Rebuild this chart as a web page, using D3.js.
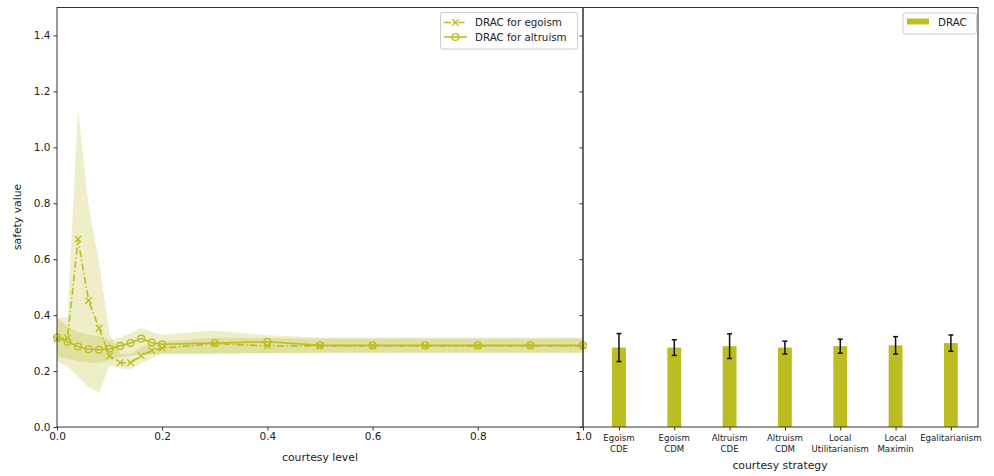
<!DOCTYPE html>
<html><head><meta charset="utf-8">
<script src="https://cdn.jsdelivr.net/npm/d3@7/dist/d3.min.js"></script>
<style>body{margin:0;background:#fff} svg{display:block;font-family:"DejaVu Sans",sans-serif}</style>
</head><body><svg id="c" width="994" height="476"></svg>
<script>
// ---- data ----
const courtesyLevels = [0,0.02,0.04,0.06,0.08,0.1,0.12,0.14,0.16,0.18,0.2,0.3,0.4,0.5,0.6,0.7,0.8,0.9,1.0];
const egoismMean  = [0.315,0.318,0.672,0.452,0.353,0.254,0.230,0.230,0.255,0.273,0.282,0.298,0.290,0.290,0.290,0.290,0.290,0.290,0.290];
const egoismLower = [0.234,0.216,0.180,0.144,0.123,0.220,0.210,0.206,0.228,0.246,0.264,0.262,0.264,0.266,0.266,0.266,0.266,0.266,0.266];
const egoismUpper = [0.390,0.392,1.135,0.790,0.590,0.330,0.262,0.262,0.285,0.300,0.305,0.320,0.318,0.316,0.316,0.316,0.316,0.316,0.316];
const altruismMean  = [0.320,0.305,0.288,0.278,0.276,0.280,0.290,0.300,0.316,0.302,0.296,0.300,0.305,0.292,0.292,0.292,0.292,0.292,0.292];
const altruismLower = [0.250,0.245,0.235,0.230,0.230,0.240,0.250,0.255,0.262,0.260,0.260,0.262,0.265,0.265,0.265,0.265,0.265,0.265,0.265];
const altruismUpper = [0.390,0.360,0.340,0.330,0.325,0.310,0.320,0.335,0.355,0.340,0.330,0.345,0.328,0.320,0.320,0.320,0.320,0.320,0.320];
const xTicks = [0,0.2,0.4,0.6,0.8,1.0];
const yTicks = [0,0.2,0.4,0.6,0.8,1.0,1.2,1.4];
const strategies = [["Egoism","CDE"],["Egoism","CDM"],["Altruism","CDE"],["Altruism","CDM"],["Local","Utilitarianism"],["Local","Maximin"],["Egalitarianism"]];
const dracValues = [0.284,0.284,0.289,0.284,0.289,0.292,0.300];
const dracErrors = [0.050,0.028,0.044,0.023,0.025,0.031,0.029];
const seriesNames = ["DRAC for egoism","DRAC for altruism"];
const barName = "DRAC";

const COLOR = "#bcbd22";
const TXT = "#222";
const svg = d3.select("#c");
const x = d3.scaleLinear().domain([0,1]).range([57,583]);
const y = d3.scaleLinear().domain([0,1.5]).range([427,7.5]);
const xb = d3.scaleLinear().domain([-0.65,6.49]).range([583,978]);
const barW = xb(0.25)-xb(0);

// ---- left panel ----
const gL = svg.append("g");
const area = (lo,hi)=>d3.area().x((d,i)=>x(courtesyLevels[i])).y0((d,i)=>y(lo[i])).y1((d,i)=>y(hi[i]));
gL.append("path").datum(courtesyLevels).attr("d",area(egoismLower,egoismUpper)).attr("fill",COLOR).attr("fill-opacity",0.25);
gL.append("path").datum(courtesyLevels).attr("d",area(altruismLower,altruismUpper)).attr("fill",COLOR).attr("fill-opacity",0.25);
const line = vals=>d3.line().x((d,i)=>x(courtesyLevels[i])).y((d,i)=>y(vals[i]));
gL.append("path").datum(courtesyLevels).attr("d",line(egoismMean)).attr("fill","none").attr("stroke",COLOR).attr("stroke-width",1.6).attr("stroke-dasharray","7,2.5,1.5,2.5");
gL.append("path").datum(courtesyLevels).attr("d",line(altruismMean)).attr("fill","none").attr("stroke",COLOR).attr("stroke-width",1.6);
const xm = 3.2;
gL.selectAll(".xm").data(courtesyLevels).enter().append("path")
  .attr("d",(d,i)=>{const cx=x(d),cy=y(egoismMean[i]);return `M${cx-xm},${cy-xm}L${cx+xm},${cy+xm}M${cx-xm},${cy+xm}L${cx+xm},${cy-xm}`;})
  .attr("stroke",COLOR).attr("stroke-width",1.3).attr("fill","none");
gL.selectAll(".cm").data(courtesyLevels).enter().append("circle")
  .attr("cx",d=>x(d)).attr("cy",(d,i)=>y(altruismMean[i])).attr("r",3.4)
  .attr("fill","none").attr("stroke",COLOR).attr("stroke-width",1.3);

// axes left
const axX = gL.append("g").attr("transform","translate(0,427)")
  .call(d3.axisBottom(x).tickValues(xTicks).tickFormat(d3.format(".1f")).tickSize(3.5).tickPadding(2));
const axY = gL.append("g").attr("transform","translate(57,0)")
  .call(d3.axisLeft(y).tickValues(yTicks).tickFormat(d3.format(".1f")).tickSize(3.5).tickPadding(3));
[axX,axY].forEach(a=>{a.select(".domain").remove();a.selectAll("text").attr("font-size",10.5).attr("fill",TXT).attr("font-family","DejaVu Sans");a.selectAll("line").attr("stroke","#333");});
gL.append("rect").attr("x",57).attr("y",7.5).attr("width",583-57).attr("height",427-7.5).attr("fill","none").attr("stroke","#333").attr("stroke-width",1);
gL.append("text").attr("x",320).attr("y",461).attr("text-anchor","middle").attr("font-size",10.8).attr("fill",TXT).text("courtesy level");
gL.append("text").attr("transform","translate(21,217) rotate(-90)").attr("text-anchor","middle").attr("font-size",10.8).attr("fill",TXT).text("safety value");

// legend left
const lg = gL.append("g");
lg.append("rect").attr("x",440.5).attr("y",12.5).attr("width",137).attr("height",36.5).attr("rx",2.5).attr("fill","#fff").attr("fill-opacity",0.8).attr("stroke","#ccc");
[[22.5,true],[37,false]].forEach(([ly,ego],k)=>{
  lg.append("line").attr("x1",444).attr("x2",467).attr("y1",ly).attr("y2",ly).attr("stroke",COLOR).attr("stroke-width",1.6).attr("stroke-dasharray",ego?"7,2.5,1.5,2.5":null);
  if(ego) lg.append("path").attr("d",`M${455.5-xm},${ly-xm}L${455.5+xm},${ly+xm}M${455.5-xm},${ly+xm}L${455.5+xm},${ly-xm}`).attr("stroke",COLOR).attr("stroke-width",1.3);
  else lg.append("circle").attr("cx",455.5).attr("cy",ly).attr("r",3.4).attr("fill","none").attr("stroke",COLOR).attr("stroke-width",1.3);
  lg.append("text").attr("x",475).attr("y",ly+3.8).attr("font-size",10.3).attr("fill",TXT).text(seriesNames[k]);
});

// ---- right panel ----
const gR = svg.append("g");
gR.selectAll(".bar").data(dracValues).enter().append("rect")
  .attr("x",(d,i)=>xb(i)-barW/2).attr("width",barW).attr("y",d=>y(d)).attr("height",d=>y(0)-y(d)).attr("fill",COLOR);
const eb = gR.selectAll(".eb").data(dracValues).enter().append("g");
eb.append("line").attr("x1",(d,i)=>xb(i)).attr("x2",(d,i)=>xb(i)).attr("y1",(d,i)=>y(d+dracErrors[i])).attr("y2",(d,i)=>y(d-dracErrors[i])).attr("stroke","#111").attr("stroke-width",1.5);
eb.append("line").attr("x1",(d,i)=>xb(i)-2.5).attr("x2",(d,i)=>xb(i)+2.5).attr("y1",(d,i)=>y(d+dracErrors[i])).attr("y2",(d,i)=>y(d+dracErrors[i])).attr("stroke","#111").attr("stroke-width",1.5);
eb.append("line").attr("x1",(d,i)=>xb(i)-2.5).attr("x2",(d,i)=>xb(i)+2.5).attr("y1",(d,i)=>y(d-dracErrors[i])).attr("y2",(d,i)=>y(d-dracErrors[i])).attr("stroke","#111").attr("stroke-width",1.5);

const axXR = gR.append("g").attr("transform","translate(0,427)")
  .call(d3.axisBottom(xb).tickValues(d3.range(strategies.length)).tickFormat("").tickSize(3.5));
const axYR = gR.append("g").attr("transform","translate(583,0)")
  .call(d3.axisLeft(y).tickValues(yTicks).tickFormat("").tickSize(3.5));
[axXR,axYR].forEach(a=>{a.select(".domain").remove();a.selectAll("line").attr("stroke","#333");});
strategies.forEach((lines,i)=>{
  const t = gR.append("text").attr("x",xb(i)).attr("y",441).attr("text-anchor","middle").attr("font-size",8.6).attr("fill",TXT);
  lines.forEach((s,j)=>t.append("tspan").attr("x",xb(i)).attr("dy",j?11:0).text(s));
});
gR.append("rect").attr("x",583).attr("y",7.5).attr("width",978-583).attr("height",427-7.5).attr("fill","none").attr("stroke","#333").attr("stroke-width",1);
gR.append("text").attr("x",780).attr("y",469).attr("text-anchor","middle").attr("font-size",10.8).attr("fill",TXT).text("courtesy strategy");

const lgR = gR.append("g");
lgR.append("rect").attr("x",903).attr("y",13).attr("width",73.5).attr("height",21).attr("rx",2.5).attr("fill","#fff").attr("fill-opacity",0.8).attr("stroke","#ccc");
lgR.append("rect").attr("x",907).attr("y",18.5).attr("width",22).attr("height",6).attr("fill",COLOR);
lgR.append("text").attr("x",938).attr("y",25.5).attr("font-size",10.3).attr("fill",TXT).text(barName);
</script></body></html>
